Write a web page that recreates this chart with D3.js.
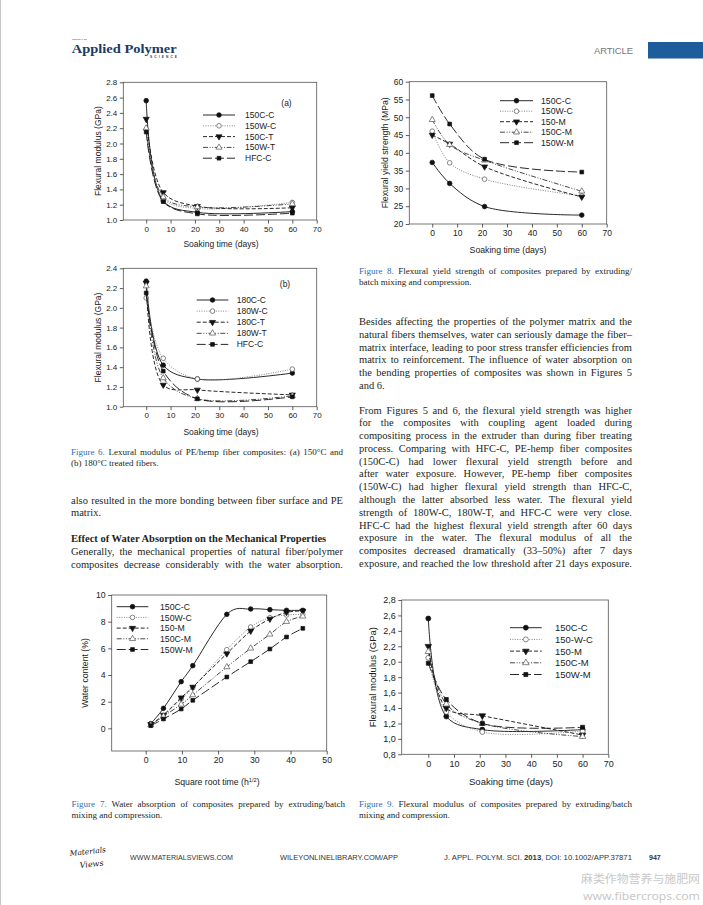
<!DOCTYPE html>
<html><head><meta charset="utf-8">
<script src="https://cdn.jsdelivr.net/npm/d3@7"></script>
<style>body{margin:0;background:#fff}svg{display:block}</style>
</head><body>
<script>
// ---------------- DATA ----------------
const soakDays = [0, 7, 21, 60];
const sqrtTime = [1.4, 4.9, 9.8, 13.0, 22.4, 29.0, 34.3, 38.9, 43.4];

const fig6aNames = ["150C-C", "150W-C", "150C-T", "150W-T", "HFC-C"];
const fig6a_150CC = [2.56, 1.25, 1.10, 1.11];
const fig6a_150WC = [2.18, 1.28, 1.15, 1.23];
const fig6a_150CT = [2.32, 1.36, 1.18, 1.16];
const fig6a_150WT = [2.20, 1.30, 1.17, 1.21];
const fig6a_HFCC  = [2.15, 1.24, 1.08, 1.09];

const fig6bNames = ["180C-C", "180W-C", "180C-T", "180W-T", "HFC-C"];
const fig6b_180CC = [2.27, 1.42, 1.28, 1.34];
const fig6b_180WC = [2.10, 1.49, 1.28, 1.38];
const fig6b_180CT = [2.25, 1.22, 1.17, 1.12];
const fig6b_180WT = [2.22, 1.29, 1.08, 1.11];
const fig6b_HFCC  = [2.15, 1.36, 1.08, 1.10];

const fig8Names = ["150C-C", "150W-C", "150-M", "150C-M", "150W-M"];
const fig8_150CC = [37.3, 31.4, 24.9, 22.5];
const fig8_150WC = [46.1, 37.2, 32.6, 27.9];
const fig8_150M  = [45.0, 42.5, 36.1, 27.6];
const fig8_150CM = [49.3, 42.3, 37.9, 29.2];
const fig8_150WM = [56.1, 48.1, 38.2, 34.6];

const fig7Names = ["150C-C", "150W-C", "150-M", "150C-M", "150W-M"];
const fig7_150CC = [0.35, 1.5, 3.5, 4.7, 8.55, 8.95, 8.9, 8.85, 8.85];
const fig7_150WC = [0.3, 0.9, 2.2, 3.05, 5.9, 7.6, 8.3, 8.5, 8.55];
const fig7_150M  = [0.3, 1.0, 2.3, 3.1, 5.6, 7.3, 8.2, 8.7, 8.8];
const fig7_150CM = [0.25, 0.9, 1.8, 2.5, 4.6, 6.0, 7.05, 8.0, 8.4];
const fig7_150WM = [0.2, 0.7, 1.45, 2.1, 3.85, 5.0, 5.95, 6.85, 7.5];

const fig9Names = ["150C-C", "150-W-C", "150-M", "150C-M", "150W-M"];
const fig9_150CC = [2.56, 1.29, 1.12, 1.12];
const fig9_150WC = [2.05, 1.35, 1.09, 1.10];
const fig9_150M  = [2.20, 1.40, 1.30, 1.05];
const fig9_150CM = [2.13, 1.45, 1.20, 1.03];
const fig9_150WM = [1.98, 1.51, 1.20, 1.15];

const dayTicks = [0, 10, 20, 30, 40, 50, 60, 70];
const sqrtTicks = [0, 10, 20, 30, 40, 50];
const fig6aYTicks = [1.0, 1.2, 1.4, 1.6, 1.8, 2.0, 2.2, 2.4, 2.6, 2.8];
const fig6bYTicks = [1.0, 1.2, 1.4, 1.6, 1.8, 2.0, 2.2, 2.4];
const fig8YTicks = [20, 25, 30, 35, 40, 45, 50, 55, 60];
const fig7YTicks = [0, 2, 4, 6, 8, 10];
const fig9YTicks = [0.8, 1.0, 1.2, 1.4, 1.6, 1.8, 2.0, 2.2, 2.4, 2.6, 2.8];

// text content
const cap6 = ["Lexural modulus of PE/hemp fiber composites: (a) 150°C and", "(b) 180°C treated fibers."];
const leftPara = ["also resulted in the more bonding between fiber surface and PE", "matrix."];
const heading = "Effect of Water Absorption on the Mechanical Properties";
const leftPara2 = ["Generally, the mechanical properties of natural fiber/polymer", "composites decrease considerably with the water absorption."];
const cap8 = ["Flexural yield strength of composites prepared by extruding/", "batch mixing and compression."];
const rightPara1 = [
  "Besides affecting the properties of the polymer matrix and the",
  "natural fibers themselves, water can seriously damage the fiber–",
  "matrix interface, leading to poor stress transfer efficiencies from",
  "matrix to reinforcement. The influence of water absorption on",
  "the bending properties of composites was shown in Figures 5",
  "and 6."];
const rightPara2 = [
  "From Figures 5 and 6, the flexural yield strength was higher",
  "for the composites with coupling agent loaded during",
  "compositing process in the extruder than during fiber treating",
  "process. Comparing with HFC-C, PE-hemp fiber composites",
  "(150C-C) had lower flexural yield strength before and",
  "after water exposure. However, PE-hemp fiber composites",
  "(150W-C) had higher flexural yield strength than HFC-C,",
  "although the latter absorbed less water. The flexural yield",
  "strength of 180W-C, 180W-T, and HFC-C were very close.",
  "HFC-C had the highest flexural yield strength after 60 days",
  "exposure in the water. The flexural modulus of all the",
  "composites decreased dramatically (33–50%) after 7 days",
  "exposure, and reached the low threshold after 21 days exposure."];
const cap7 = ["Water absorption of composites prepared by extruding/batch", "mixing and compression."];
const cap9 = ["Flexural modulus of composites prepared by extruding/batch", "mixing and compression."];

// ---------------- DRAW ----------------
const W = 703, H = 905;
const svg = d3.select("body").append("svg").attr("width", W).attr("height", H);
svg.append("rect").attr("width", W).attr("height", H).attr("fill", "#fff");
svg.append("line").attr("x1", 0.5).attr("x2", 0.5).attr("y1", 0).attr("y2", H).attr("stroke", "#c8c8c8");

const SANS = "Arial, 'Liberation Sans', sans-serif";
const SERIF = "'Liberation Serif', 'Times New Roman', serif";
const INK = "#231f20";

const styles = [
  {dash: null, color: "#111", sym: d3.symbolCircle, fill: "#111", rot: 0, size: 17},
  {dash: "1,1.4", color: "#777", sym: d3.symbolCircle, fill: "#fff", rot: 0, size: 17},
  {dash: "4,2", color: "#111", sym: d3.symbolTriangle, fill: "#111", rot: 180, size: 16},
  {dash: "5,1.6,1,1.6,1,1.6", color: "#333", sym: d3.symbolTriangle, fill: "#fff", rot: 0, size: 16},
  {dash: "9,3", color: "#111", sym: d3.symbolSquare, fill: "#111", rot: 0, size: 14}
];

function marker(g, st, cx, cy, scale) {
  g.append("path")
    .attr("d", d3.symbol().type(st.sym).size(st.size * scale)())
    .attr("transform", `translate(${cx},${cy}) rotate(${st.rot})`)
    .attr("fill", st.fill)
    .attr("stroke", st.fill === "#fff" ? "#555" : st.fill)
    .attr("stroke-width", 0.7);
}

function drawChart(c) {
  const g = svg.append("g");
  const x = d3.scaleLinear().domain(c.xDomain).range([c.left, c.right]);
  const y = d3.scaleLinear().domain(c.yDomain).range([c.bottom, c.top]);
  const fs = c.fs;
  g.append("rect").attr("x", c.left).attr("y", c.top)
    .attr("width", c.right - c.left).attr("height", c.bottom - c.top)
    .attr("fill", "none").attr("stroke", "#555").attr("stroke-width", 0.8);

  const xa = g.append("g").attr("transform", `translate(0,${c.bottom})`)
    .call(d3.axisBottom(x).tickValues(c.xTicks).tickSize(3.5).tickPadding(2.5).tickFormat(d3.format("d")));
  const ya = g.append("g").attr("transform", `translate(${c.left},0)`)
    .call(d3.axisLeft(y).tickValues(c.yTicks).tickSize(3.5).tickPadding(2.5).tickFormat(c.yFormat));
  [xa, ya].forEach(a => {
    a.select(".domain").remove();
    a.attr("font-family", SANS).attr("font-size", fs);
    a.selectAll("text").attr("fill", "#222");
    a.selectAll("line").attr("stroke", "#333").attr("stroke-width", 0.8);
  });

  // titles
  const xt = g.append("text").attr("x", c.xTitleX).attr("y", c.xTitleY)
    .attr("text-anchor", "middle").attr("font-family", SANS).attr("font-size", c.tfs).attr("fill", "#222");
  if (c.xTitleSup) {
    xt.append("tspan").text(c.xTitle);
    xt.append("tspan").attr("dy", -3).attr("font-size", c.tfs * 0.65).text(c.xTitleSup);
    xt.append("tspan").attr("dy", 3).text(")");
  } else xt.text(c.xTitle);
  g.append("text").attr("transform", `translate(${c.yTitleX},${(c.top + c.bottom) / 2}) rotate(-90)`)
    .attr("text-anchor", "middle").attr("font-family", SANS).attr("font-size", c.tfs).attr("fill", "#222")
    .text(c.yTitle);

  // series
  const curve = c.curve || d3.curveCatmullRom.alpha(0.5);
  c.series.forEach((vals, i) => {
    const st = styles[i];
    const line = d3.line().x((d, j) => x(c.xs[j])).y(d => y(d)).curve(curve);
    g.append("path").attr("d", line(vals)).attr("fill", "none")
      .attr("stroke", st.color).attr("stroke-width", 0.9)
      .attr("stroke-dasharray", st.dash);
    vals.forEach((v, j) => marker(g, st, x(c.xs[j]), y(v), c.ms || 1));
  });

  // legend
  const L = c.legend;
  c.names.forEach((n, i) => {
    const st = styles[i];
    const yy = L.y0 + i * L.dy;
    g.append("line").attr("x1", L.x1).attr("x2", L.x2).attr("y1", yy).attr("y2", yy)
      .attr("stroke", st.color).attr("stroke-width", 0.9).attr("stroke-dasharray", st.dash);
    marker(g, st, (L.x1 + L.x2) / 2, yy, c.ms || 1);
    g.append("text").attr("x", L.tx).attr("y", yy + c.tfs * 0.36)
      .attr("font-family", SANS).attr("font-size", c.tfs).attr("fill", "#222").text(n);
  });
  if (c.tag) g.append("text").attr("x", c.tag.x).attr("y", c.tag.y).attr("text-anchor", "middle")
    .attr("font-family", SANS).attr("font-size", c.tfs).attr("fill", "#222").text(c.tag.t);
}

const f1 = d3.format(".1f");
const fComma = d => d.toFixed(1).replace(".", ",");

drawChart({left: 123.3, right: 316.7, top: 82.3, bottom: 220, xDomain: [-9.4, 70], yDomain: [1.0, 2.8],
  xTicks: dayTicks, yTicks: fig6aYTicks, yFormat: f1, fs: 8, tfs: 8.5,
  xs: soakDays, series: [fig6a_150CC, fig6a_150WC, fig6a_150CT, fig6a_150WT, fig6a_HFCC], names: fig6aNames,
  xTitle: "Soaking time (days)", xTitleX: 221, xTitleY: 247, yTitle: "Flexural modulus (GPa)", yTitleX: 100.5,
  legend: {x1: 203, x2: 235, tx: 245, y0: 115, dy: 10.8}, tag: {t: "(a)", x: 286.5, y: 106}});

drawChart({left: 123.3, right: 316.7, top: 268.3, bottom: 406.7, xDomain: [-9.4, 70], yDomain: [1.0, 2.4],
  xTicks: dayTicks, yTicks: fig6bYTicks, yFormat: f1, fs: 8, tfs: 8.5,
  xs: soakDays, series: [fig6b_180CC, fig6b_180WC, fig6b_180CT, fig6b_180WT, fig6b_HFCC], names: fig6bNames,
  xTitle: "Soaking time (days)", xTitleX: 221, xTitleY: 435, yTitle: "Flexural modulus (GPa)", yTitleX: 100.5,
  legend: {x1: 196.7, x2: 228.3, tx: 236.7, y0: 300, dy: 11.1}, tag: {t: "(b)", x: 285, y: 287}});

drawChart({left: 409.3, right: 606.7, top: 81.7, bottom: 224, xDomain: [-9.2, 70], yDomain: [20, 60],
  xTicks: dayTicks, yTicks: fig8YTicks, yFormat: d3.format("d"), fs: 8.5, tfs: 8.7,
  xs: soakDays, series: [fig8_150CC, fig8_150WC, fig8_150M, fig8_150CM, fig8_150WM], names: fig8Names,
  xTitle: "Soaking time (days)", xTitleX: 508, xTitleY: 253, yTitle: "Flexural yield strength (MPa)", yTitleX: 388,
  legend: {x1: 500, x2: 533, tx: 541, y0: 100.7, dy: 10.5}});

drawChart({left: 111.7, right: 326.7, top: 595, bottom: 751, xDomain: [-9.4, 50], yDomain: [-1.7, 10],
  xTicks: sqrtTicks, yTicks: fig7YTicks, yFormat: d3.format("d"), fs: 8.7, tfs: 8.7,
  curve: d3.curveCatmullRom.alpha(0),
  xs: sqrtTime, series: [fig7_150CC, fig7_150WC, fig7_150M, fig7_150CM, fig7_150WM], names: fig7Names,
  xTitle: "Square root time (h", xTitleSup: "1/2", xTitleX: 217, xTitleY: 785, yTitle: "Water content (%)", yTitleX: 87.5,
  legend: {x1: 116.7, x2: 148.3, tx: 160, y0: 606.7, dy: 10.7}});

drawChart({left: 401.7, right: 608.3, top: 600, bottom: 754.3, xDomain: [-10.35, 70], yDomain: [0.8, 2.8],
  xTicks: dayTicks, yTicks: fig9YTicks, yFormat: fComma, fs: 9, tfs: 9.5, ms: 1.15,
  xs: soakDays, series: [fig9_150CC, fig9_150WC, fig9_150M, fig9_150CM, fig9_150WM], names: fig9Names,
  xTitle: "Soaking time (days)", xTitleX: 511, xTitleY: 785, yTitle: "Flexural modulus (GPa)", yTitleX: 376,
  legend: {x1: 510, x2: 541.7, tx: 555, y0: 627.7, dy: 11.7}});

// ---------------- TEXT ----------------
function justify(t, width) {
  const n = t.node();
  const w = n.getComputedTextLength();
  const sp = (n.textContent.match(/ /g) || []).length;
  if (sp) t.attr("word-spacing", (width - w) / sp);
}
function paragraph(lines, x, y0, dy, width, fs, justifyLast) {
  lines.forEach((l, i) => {
    const t = svg.append("text").attr("x", x).attr("y", y0 + i * dy)
      .attr("font-family", SERIF).attr("font-size", fs).attr("fill", INK).text(l);
    if (i < lines.length - 1 || justifyLast) justify(t, width);
  });
}
function caption(num, lines, x, y0, width) {
  lines.forEach((l, i) => {
    const t = svg.append("text").attr("x", x).attr("y", y0 + i * 11.2)
      .attr("font-family", SERIF).attr("font-size", 9).attr("fill", INK);
    if (i === 0) {
      t.append("tspan").attr("fill", "#2f6db5").text("Figure " + num + ".");
      t.append("tspan").text(" " + l);
      justify(t, width);
    } else t.text(l);
  });
}

caption(6, cap6, 71, 455, 272);
paragraph(leftPara, 71, 503.5, 12.8, 272, 10.5, false);
svg.append("text").attr("x", 71).attr("y", 541.5).attr("font-family", SERIF).attr("font-weight", "bold")
  .attr("font-size", 10.5).attr("fill", INK).text(heading);
paragraph(leftPara2, 71, 555, 12.6, 272, 10.5, true);

caption(8, cap8, 359, 273.5, 273);
paragraph(rightPara1, 359, 325.2, 12.7, 273, 10.5, false);
paragraph(rightPara2, 359, 413.5, 12.78, 273, 10.5, true);

caption(7, cap7, 71.5, 806.5, 273.5);
caption(9, cap9, 359, 806.5, 273);

// header
svg.append("text").attr("x", 72).attr("y", 39.8).attr("font-family", SANS).attr("font-size", 2.4)
  .attr("fill", "#1b3a63").text("JOURNAL OF");
svg.append("text").attr("x", 71.7).attr("y", 52.5).attr("font-family", SERIF).attr("font-weight", "bold")
  .attr("font-size", 12.5).attr("fill", "#1b3a63").attr("textLength", 105).attr("lengthAdjust", "spacingAndGlyphs")
  .text("Applied Polymer");
svg.append("text").attr("x", 150).attr("y", 57.5).attr("font-family", SANS).attr("font-weight", "bold")
  .attr("font-size", 3.2).attr("fill", "#1b3a63").attr("textLength", 27).text("SCIENCE");
svg.append("text").attr("x", 594).attr("y", 54).attr("font-family", SANS).attr("font-size", 9.5)
  .attr("fill", "#777").attr("textLength", 39).text("ARTICLE");
svg.append("rect").attr("x", 648).attr("y", 42).attr("width", 55).attr("height", 16.5).attr("fill", "#1f5c9b");

// footer
svg.append("text").attr("x", 70).attr("y", 856).attr("font-family", "'DejaVu Serif', serif").attr("font-style", "italic")
  .attr("font-size", 7.5).attr("fill", "#111").attr("transform", "rotate(-6,70,856)").text("Materials");
svg.append("text").attr("x", 80).attr("y", 868).attr("font-family", "'DejaVu Serif', serif").attr("font-style", "italic")
  .attr("font-size", 8).attr("fill", "#111").attr("transform", "rotate(-6,80,868)").text("Views");
const foot = (x, t, w) => svg.append("text").attr("x", x).attr("y", 860).attr("font-family", SANS)
  .attr("font-size", 6.8).attr("fill", "#333").attr("textLength", w).attr("lengthAdjust", "spacingAndGlyphs").text(t);
foot(130, "WWW.MATERIALSVIEWS.COM", 103);
foot(280, "WILEYONLINELIBRARY.COM/APP", 118);
const jt = svg.append("text").attr("x", 444).attr("y", 860).attr("font-family", SANS).attr("font-size", 6.8)
  .attr("fill", "#333").attr("textLength", 188).attr("lengthAdjust", "spacingAndGlyphs");
jt.append("tspan").text("J. APPL. POLYM. SCI. ");
jt.append("tspan").attr("font-weight", "bold").text("2013");
jt.append("tspan").text(", DOI: 10.1002/APP.37871");
svg.append("text").attr("x", 649).attr("y", 860).attr("font-family", SANS).attr("font-weight", "bold")
  .attr("font-size", 7).attr("fill", "#333").text("947");
svg.append("text").attr("x", 581).attr("y", 883).attr("font-family", "'Noto Sans CJK SC', sans-serif")
  .attr("font-size", 11.3).attr("fill", "#c9c9c9").attr("textLength", 119).attr("lengthAdjust", "spacingAndGlyphs")
  .text("麻类作物营养与施肥网");
svg.append("text").attr("x", 583).attr("y", 899.5).attr("font-family", "'Noto Sans', sans-serif")
  .attr("font-size", 11).attr("fill", "#c9c9c9").attr("textLength", 117).attr("lengthAdjust", "spacingAndGlyphs")
  .text("www.fibercrops.com");
</script>
</body></html>
